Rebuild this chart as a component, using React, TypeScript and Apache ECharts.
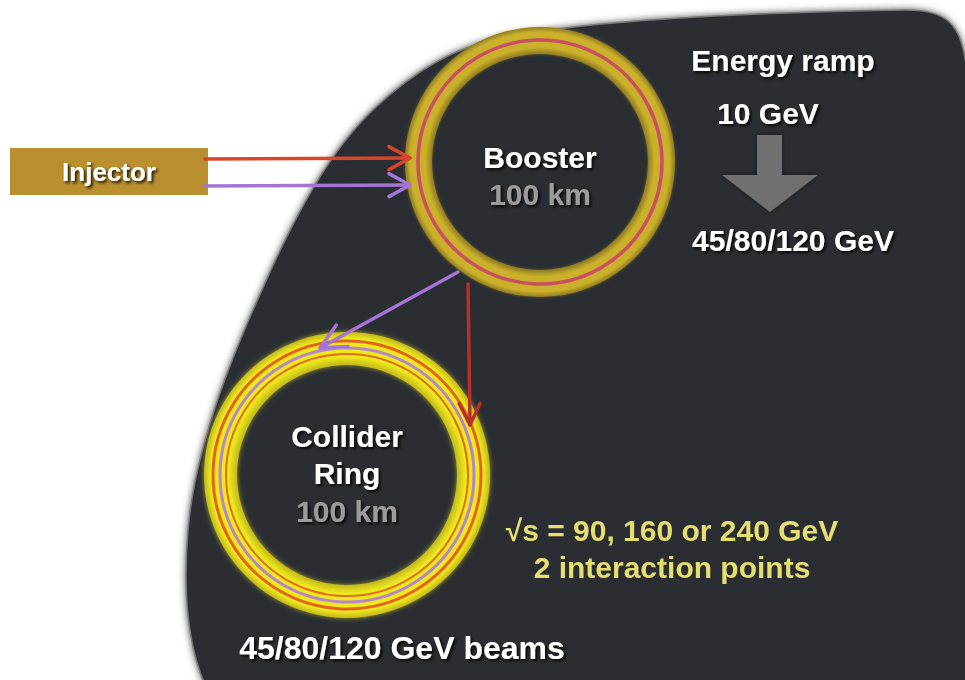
import React, { useEffect, useRef } from "react";
import * as echarts from "echarts";

// ---- diagram content ----
const injectorLabel = "Injector";
const ringNames = ["Booster", "Collider\nRing"];
const ringCircumferenceKm = [100, 100];
const rampTitle = "Energy ramp";
const rampEnergiesGeV = ["10", "45/80/120"];
const collisionEnergiesGeV = [90, 160, 240];
const interactionPoints = 2;
const beamEnergiesGeV = [45, 80, 120];

const FONT = "'Liberation Sans', Arial, Helvetica, sans-serif";

const blobPath =
  "M 968 90 C 966 25 950 10 905 10 C 780 12 600 18 500 38 C 450 48 410 75 375 108 " +
  "C 330 150 295 215 262 290 C 228 365 195 450 188 530 C 182 600 190 650 205 685 L 970 685 Z";

function arrowHead(from: number[], to: number[], len: number, ang: number) {
  const dx = from[0] - to[0];
  const dy = from[1] - to[1];
  const l = Math.hypot(dx, dy);
  const ux = dx / l, uy = dy / l;
  const rot = (a: number) => [
    to[0] + len * (ux * Math.cos(a) - uy * Math.sin(a)),
    to[1] + len * (ux * Math.sin(a) + uy * Math.cos(a)),
  ];
  return [rot(ang), to, rot(-ang)];
}

export default function App() {
  const ref = useRef<HTMLDivElement>(null);
  useEffect(() => {
    if (!ref.current) return;
    echarts.graphic.registerShape("blob", echarts.graphic.extendPath(blobPath, {}) as any);
    const chart = echarts.init(ref.current, undefined, { renderer: "svg" });

    const white = {
      fill: "#ffffff",
      fontFamily: FONT,
      fontWeight: "bold",
      fontSize: 30,
      textAlign: "center",
      textVerticalAlign: "middle",
      textShadowColor: "rgba(0,0,0,0.85)",
      textShadowBlur: 3,
      textShadowOffsetX: 2,
      textShadowOffsetY: 2,
    } as any;
    const gray = { ...white, fill: "#9c9c9c" };
    const yellow = { ...white, fill: "#e6de70", textShadowColor: "rgba(0,0,0,0)" };

    const ringGrad = (edge: string, mid: string, inner: number) => ({
      type: "radial",
      x: 0.5,
      y: 0.5,
      r: 0.5,
      colorStops: [
        { offset: 0, color: edge },
        { offset: inner, color: edge },
        { offset: inner + (1 - inner) * 0.25, color: mid },
        { offset: inner + (1 - inner) * 0.8, color: mid },
        { offset: 1, color: edge },
      ],
    });

    const line = (pts: number[][], color: string, w = 3.5) => ({
      type: "polyline",
      shape: { points: pts },
      style: { stroke: color, lineWidth: w, fill: null, lineCap: "round", lineJoin: "round" },
    });

    const RED = "#d8452a";
    const PURPLE = "#a474d6";
    const DARKRED = "#b8302a";

    const booster = { cx: 540, cy: 162, r: 135, r0: 108 };
    const collider = { cx: 347, cy: 475, r: 143, r0: 110 };

    const injRed = [[205, 159], [410, 158]];
    const injPur = [[205, 186], [410, 185]];
    const toColPur = [[458, 272], [320, 348]];
    const toColRed = [[468, 284], [470, 425]];

    const elements: any[] = [
      { type: "rect", shape: { x: 0, y: 0, width: 965, height: 680 }, style: { fill: "#ffffff" } },
      {
        type: "blob",
        x: 0,
        y: 0,
        style: {
          fill: "#2b2e33",
          stroke: "#7a7a7a",
          lineWidth: 1.5,
          shadowColor: "rgba(60,60,60,0.9)",
          shadowBlur: 7,
        },
      },
      // injector
      { type: "rect", shape: { x: 10, y: 148, width: 198, height: 47 }, style: { fill: "#b98f2f" } },
      { type: "text", x: 109, y: 172, style: { ...white, text: injectorLabel, fontSize: 26 } },
      // booster ring
      {
        type: "ring",
        shape: booster,
        style: { fill: ringGrad("#8f7b22", "#cbb12c", 0.8), shadowColor: "rgba(200,170,40,0.4)", shadowBlur: 3 },
      },
      { type: "circle", shape: { cx: booster.cx, cy: booster.cy, r: 122 }, style: { fill: null, stroke: "#c94f63", lineWidth: 3.5 } },
      // collider ring
      {
        type: "ring",
        shape: collider,
        style: { fill: ringGrad("#c4b81c", "#ede91c", 0.77), shadowColor: "rgba(240,230,40,0.6)", shadowBlur: 5 },
      },
      { type: "circle", shape: { cx: collider.cx, cy: collider.cy, r: 134 }, style: { fill: null, stroke: "#e2641f", lineWidth: 3 } },
      { type: "circle", shape: { cx: collider.cx, cy: collider.cy, r: 127 }, style: { fill: null, stroke: "#b884cc", lineWidth: 3 } },
      { type: "circle", shape: { cx: collider.cx, cy: collider.cy, r: 121 }, style: { fill: null, stroke: "#e0701f", lineWidth: 2 } },
      // beam transfer lines
      line(injRed, RED),
      line(arrowHead(injRed[0], injRed[1], 24, 0.5), RED),
      line(injPur, PURPLE),
      line(arrowHead(injPur[0], injPur[1], 24, 0.5), PURPLE),
      line(toColPur, PURPLE),
      line(arrowHead(toColPur[0], toColPur[1], 28, 0.45), PURPLE),
      line(toColRed, DARKRED),
      line(arrowHead(toColRed[0], toColRed[1], 24, 0.45), DARKRED),
      // ring labels
      { type: "text", x: booster.cx, y: 157, style: { ...white, text: ringNames[0] } },
      { type: "text", x: booster.cx, y: 194, style: { ...gray, text: `${ringCircumferenceKm[0]} km` } },
      { type: "text", x: collider.cx, y: 455, style: { ...white, text: ringNames[1], lineHeight: 37 } },
      { type: "text", x: collider.cx, y: 511, style: { ...gray, text: `${ringCircumferenceKm[1]} km` } },
      // energy ramp
      { type: "text", x: 783, y: 60, style: { ...white, text: rampTitle } },
      { type: "text", x: 768, y: 113, style: { ...white, text: `${rampEnergiesGeV[0]} GeV` } },
      {
        type: "polygon",
        shape: {
          points: [
            [757, 135], [782, 135], [782, 175], [818, 175], [770, 212], [722, 175], [757, 175],
          ],
        },
        style: { fill: "#6f6f6f", shadowColor: "rgba(0,0,0,0.5)", shadowBlur: 4 },
      },
      { type: "text", x: 793, y: 240, style: { ...white, text: `${rampEnergiesGeV[1]} GeV` } },
      // collision info
      {
        type: "text",
        x: 672,
        y: 530,
        style: { ...yellow, text: `√s = ${collisionEnergiesGeV.slice(0, 2).join(", ")} or ${collisionEnergiesGeV[2]} GeV` },
      },
      { type: "text", x: 672, y: 567, style: { ...yellow, text: `${interactionPoints} interaction points` } },
      { type: "text", x: 402, y: 648, style: { ...white, text: `${beamEnergiesGeV.join("/")} GeV beams`, fontSize: 32 } },
    ];

    chart.setOption({ animation: false, graphic: { elements } });
    return () => chart.dispose();
  }, []);
  return (
    <div
      ref={ref}
      style={{ position: "fixed", left: 0, top: 0, width: 965, height: 680 }}
    />
  );
}
